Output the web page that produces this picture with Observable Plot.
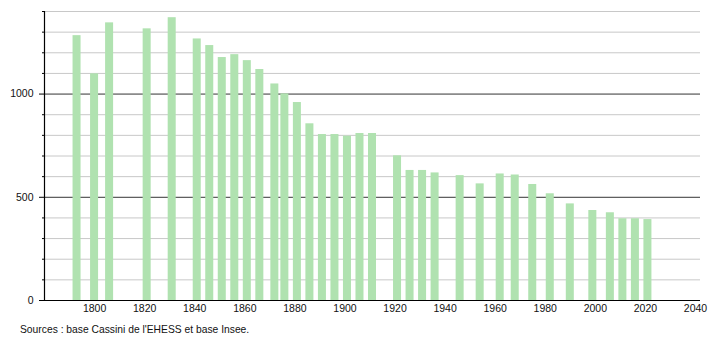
<!DOCTYPE html>
<html>
<head>
<meta charset="utf-8">
<script src="https://cdn.jsdelivr.net/npm/d3@7"></script>
<script src="https://cdn.jsdelivr.net/npm/@observablehq/plot@0.6"></script>
<style>
  html, body { margin: 0; padding: 0; background: #fff; }
  #chart { width: 710px; }
  .caption { font-family: "Liberation Sans", Arial, sans-serif; font-size: 10.3px; color: #111; padding-left: 20px; margin-top: 5px; line-height: 14px; }
</style>
</head>
<body>
<div id="chart"></div>
<script>
const years = [1793, 1800, 1806, 1821, 1831, 1841, 1846, 1851, 1856, 1861, 1866, 1872, 1876, 1881, 1886, 1891, 1896, 1901, 1906, 1911, 1921, 1926, 1931, 1936, 1946, 1954, 1962, 1968, 1975, 1982, 1990, 1999, 2006, 2011, 2016, 2021];
const population = [1283, 1098, 1345, 1316, 1370, 1267, 1235, 1177, 1191, 1162, 1119, 1049, 1001, 959, 856, 804, 804, 796, 809, 809, 701, 630, 630, 618, 605, 565, 613, 608, 562, 517, 468, 436, 425, 396, 396, 392];
const xTicks = [1800, 1820, 1840, 1860, 1880, 1900, 1920, 1940, 1960, 1980, 2000, 2020, 2040];
const yMajor = [0, 500, 1000];
const yMinor = [100, 200, 300, 400, 600, 700, 800, 900, 1100, 1200, 1300, 1400];
const caption = "Sources : base Cassini de l'EHESS et base Insee.";

const data = years.map((y, i) => ({year: y, pop: population[i]}));

const chart = Plot.plot({
  width: 710,
  height: 318,
  marginLeft: 44,
  marginRight: 10,
  marginTop: 11,
  marginBottom: 18,
  style: {fontFamily: "'Liberation Sans', Arial, sans-serif", fontSize: "10.5px", color: "#111", background: "#fff"},
  x: {domain: [1780, 2042], label: null},
  y: {domain: [0, 1400], label: null},
  marks: [
    Plot.ruleY(yMinor, {stroke: "#c8c8c8", strokeWidth: 1}),
    Plot.ruleY([500, 1000], {stroke: "#333", strokeWidth: 1}),
    Plot.rectY(data, {x1: d => d.year - 1.6, x2: d => d.year + 1.6, y: "pop", fill: "#b0e2b0"}),
    Plot.ruleY([0], {stroke: "#000", strokeWidth: 1.2}),
    Plot.ruleX([1780], {stroke: "#000", strokeWidth: 1.2}),
    Plot.axisY(yMinor, {tickSize: 2, text: null, stroke: "#000", label: null}),
    Plot.axisY(yMajor, {tickSize: 5, tickPadding: 6, stroke: "#000", fill: "#111", label: null, tickFormat: d => String(d)}),
    Plot.axisX(xTicks, {tickSize: 0, tickPadding: 4, fill: "#111", label: null, tickFormat: d => String(d)})
  ]
});
document.getElementById("chart").appendChild(chart);
const cap = document.createElement("div");
cap.className = "caption";
cap.textContent = caption;
document.getElementById("chart").appendChild(cap);
</script>
</body>
</html>
